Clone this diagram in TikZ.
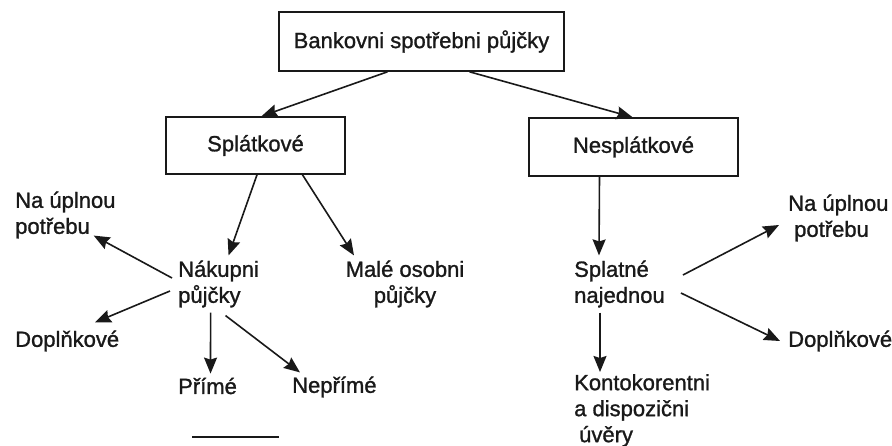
\documentclass[tikz,border=0pt]{standalone}
\usepackage{fontspec}
\setmainfont{Liberation Sans}[FakeBold=1.2]
\usepackage{tikz}
\usetikzlibrary{arrows.meta}
\definecolor{inkgrey}{RGB}{25,25,25}

\begin{document}
\begin{tikzpicture}[x=1pt,y=-1pt,
  every node/.style={font=\fontsize{22}{26}\selectfont,text=inkgrey},
  box/.style={draw=inkgrey,line width=1.6pt,inner sep=0pt,align=center},
  lbl/.style={inner sep=0pt,align=left,anchor=west},
  ar/.style={-{Stealth[length=16pt,width=13pt,inset=2pt]},inkgrey,line width=1.6pt}]
\useasboundingbox (0,0) rectangle (892,445);

\node[box,minimum width=285pt,minimum height=59pt] (top) at (421.5,41.5) {Bankovni spotřebni půjčky};
\node[box,minimum width=179pt,minimum height=57pt] (spl) at (255.5,145.5) {Splátkové};
\node[box,minimum width=209pt,minimum height=58pt] (nes) at (633.5,147) {Nesplátkové};

\node[lbl] (nak)  at (178,284) {Nákupni\\půjčky};
\node[inner sep=0pt,align=center] (male) at (405,284) {Malé osobni\\půjčky};
\node[lbl] (lna)  at (15,215) {Na úplnou\\potřebu};
\node[lbl] (ldop) at (15,341) {Doplňkové};
\node[lbl] (pri)  at (178,386) {Přímé};
\node[lbl] (npri) at (292,387) {Nepřímé};

\node[lbl] (spt)  at (574,284) {Splatné\\najednou};
\node[lbl] (rna)  at (788,218) {Na úplnou\\\hspace*{6pt}potřebu};
\node[lbl] (rdop) at (788,341) {Doplňkové};
\node[lbl,anchor=north west] (kon) at (574,374) {Kontokorentni\\a dispozični\\\hspace*{5pt}úvěry};

% from the top box
\draw[ar] ([xshift=-34pt]top.south) -- ([xshift=6pt]spl.north);
\draw[ar] ([xshift=48pt]top.south) -- ([xshift=-1pt]nes.north);

% installment branch
\draw[ar] ([xshift=1.5pt]spl.south) -- ([xshift=10pt,yshift=5pt]nak.north);
\draw[ar] ([xshift=47pt]spl.south) -- ([xshift=-51pt,yshift=5pt]male.north);
\draw[ar] ([xshift=-6pt,yshift=6pt]nak.west) -- ([xshift=-22pt,yshift=3pt]lna.south east);
\draw[ar] ([xshift=-8pt,yshift=-7pt]nak.west) -- ([xshift=80pt,yshift=8pt]ldop.north west);
\draw[ar] ([xshift=-8pt,yshift=-5pt]nak.south) -- ([xshift=3pt,yshift=4pt]pri.north);
\draw[ar] ([xshift=7pt,yshift=-8pt]nak.south) -- ([xshift=8pt,yshift=4pt]npri.north west);

% one-off branch
\draw[ar] ([xshift=-34pt]nes.south) -- ([xshift=25pt,yshift=5pt]spt.north west);
\draw[ar] ([xshift=18pt,yshift=9pt]spt.east) -- ([xshift=-9pt,yshift=-7pt]rna.west);
\draw[ar] ([xshift=16pt,yshift=-9pt]spt.east) -- ([xshift=-8pt]rdop.west);
\draw[ar] ([xshift=26pt,yshift=-5pt]spt.south west) -- ([xshift=26pt,yshift=2pt]kon.north west);

\draw[inkgrey,line width=1.8pt] (192,437) -- (279,437);
\end{tikzpicture}
\end{document}
